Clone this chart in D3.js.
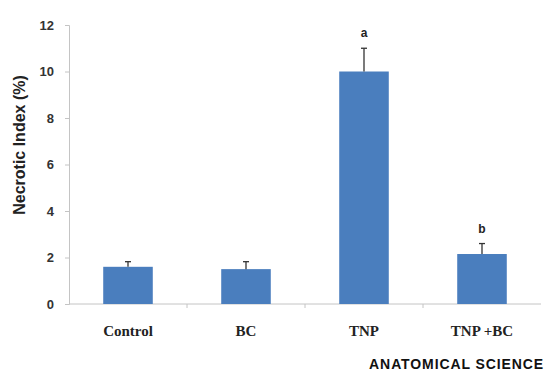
<!DOCTYPE html>
<html>
<head>
<meta charset="utf-8">
<script src="https://cdn.jsdelivr.net/npm/d3@7"></script>
<style>
  html, body { margin: 0; padding: 0; background: #fff; }
  svg { display: block; }
</style>
</head>
<body>
<svg id="chart" width="545" height="372"></svg>
<script>
// Necrotic index per group, mean with upper error and significance mark
const categories = ["Control", "BC", "TNP", "TNP +BC"];
const means = [1.6, 1.5, 10.0, 2.15];
const errors = [0.22, 0.32, 1.0, 0.45];
const marks = ["", "", "a", "b"];
const yTicks = [0, 2, 4, 6, 8, 10, 12];

const svg = d3.select("#chart");
const margin = { left: 69, right: 4, top: 25, bottom: 68 };
const W = 545, H = 372;

const x = d3.scaleBand()
  .domain(categories)
  .range([margin.left, W - margin.right])
  .paddingInner(0.58)
  .paddingOuter(0.29);

const y = d3.scaleLinear().domain([0, 12]).range([H - margin.bottom, margin.top]);

// y axis
const yAxis = svg.append("g")
  .attr("transform", `translate(${margin.left},0)`)
  .call(d3.axisLeft(y).tickValues(yTicks).tickSize(4).tickPadding(11).tickFormat(d3.format("d")));
yAxis.select(".domain").attr("stroke", "#c4c4c4");
yAxis.selectAll(".tick line").attr("stroke", "#c4c4c4");
yAxis.selectAll("text")
  .attr("font-family", "Liberation Sans, Arial, sans-serif")
  .attr("font-weight", "bold")
  .attr("font-size", 13)
  .attr("fill", "#333");

// x axis baseline with ticks between categories
const x0 = y(0);
svg.append("line")
  .attr("x1", margin.left).attr("x2", W - margin.right)
  .attr("y1", x0).attr("y2", x0)
  .attr("stroke", "#c4c4c4");
const step = x.step();
categories.forEach((c, i) => {
  if (i === 0) return;
  const xb = x(c) - x.paddingInner() * step / 2;
  svg.append("line")
    .attr("x1", xb).attr("x2", xb)
    .attr("y1", x0).attr("y2", x0 + 4)
    .attr("stroke", "#c4c4c4");
});

// bars
svg.append("g").selectAll("rect")
  .data(categories)
  .join("rect")
  .attr("x", d => x(d))
  .attr("width", x.bandwidth())
  .attr("y", (d, i) => y(means[i]))
  .attr("height", (d, i) => y(0) - y(means[i]))
  .attr("fill", "#4a7ebe");

// upper error bars
const eg = svg.append("g").attr("stroke", "#333").attr("stroke-width", 1.3);
categories.forEach((c, i) => {
  const cx = x(c) + x.bandwidth() / 2;
  eg.append("line")
    .attr("x1", cx).attr("x2", cx)
    .attr("y1", y(means[i])).attr("y2", y(means[i] + errors[i]));
  eg.append("line")
    .attr("x1", cx - 3).attr("x2", cx + 3)
    .attr("y1", y(means[i] + errors[i])).attr("y2", y(means[i] + errors[i]));
});

// significance letters
categories.forEach((c, i) => {
  if (!marks[i]) return;
  svg.append("text")
    .attr("x", x(c) + x.bandwidth() / 2)
    .attr("y", y(means[i] + errors[i]) - 11)
    .attr("text-anchor", "middle")
    .attr("font-family", "Liberation Sans, Arial, sans-serif")
    .attr("font-weight", "bold")
    .attr("font-size", 12)
    .attr("fill", "#222")
    .text(marks[i]);
});

// category labels
svg.append("g").selectAll("text")
  .data(categories)
  .join("text")
  .attr("x", d => x(d) + x.bandwidth() / 2)
  .attr("y", 336)
  .attr("text-anchor", "middle")
  .attr("font-family", "Liberation Serif, Times New Roman, serif")
  .attr("font-weight", "bold")
  .attr("font-size", 15)
  .attr("fill", "#222")
  .text(d => d);

// y axis title
svg.append("text")
  .attr("transform", "translate(25,145) rotate(-90)")
  .attr("text-anchor", "middle")
  .attr("font-family", "Liberation Sans, Arial, sans-serif")
  .attr("font-weight", "bold")
  .attr("font-size", 16)
  .attr("fill", "#222")
  .text("Necrotic Index (%)");

// journal caption
svg.append("text")
  .attr("x", 544)
  .attr("y", 369)
  .attr("text-anchor", "end")
  .attr("font-family", "Liberation Sans, Arial, sans-serif")
  .attr("font-weight", "bold")
  .attr("font-size", 14)
  .attr("letter-spacing", 0.9)
  .attr("fill", "#111")
  .text("ANATOMICAL SCIENCE");
</script>
</body>
</html>
